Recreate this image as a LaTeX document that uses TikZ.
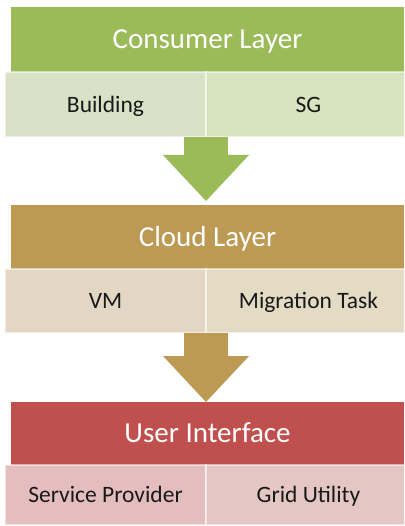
\documentclass[tikz,border=0pt]{standalone}
\usepackage{fontspec}
\setmainfont{Carlito}
\usetikzlibrary{positioning,arrows.meta}

\definecolor{conshead}{HTML}{9BBB59}
\definecolor{consleft}{HTML}{D9E2C6}
\definecolor{consright}{HTML}{D8E4BF}
\definecolor{cloudhead}{HTML}{BD9A53}
\definecolor{cloudleft}{HTML}{E3D6C3}
\definecolor{cloudright}{HTML}{E3DBC4}
\definecolor{uihead}{HTML}{C0504D}
\definecolor{uileft}{HTML}{E4BEBE}
\definecolor{uiright}{HTML}{E4C7C3}

\tikzset{
  layerhead/.style={anchor=north west, minimum width=393pt, inner sep=0pt,
    outer sep=0pt, text=white, text height=18.7pt, text depth=0pt,
    font=\fontsize{29}{34}\selectfont},
  layerpart/.style={anchor=north west, minimum width=201pt, inner sep=0pt,
    outer sep=0pt, draw=white, draw opacity=0.55, line width=2pt,
    text=black!90, text height=15.1pt, text depth=0pt,
    font=\fontsize{23.5}{28}\selectfont},
  layerarrow/.style={line width=44pt,
    -{Triangle[width=86pt,length=46pt,line width=0pt]}}
}

\begin{document}
\begin{tikzpicture}[x=1pt,y=1pt]
        \clip (0,0) rectangle (404,-526);
        % consumer layer
        \node[layerhead, fill=conshead, minimum height=65pt] (cons) at (11,-7) {Consumer Layer};
        \node[layerpart, fill=consleft, minimum height=65pt] (bldg) at (5,-72) {Building};
        \node[layerpart, fill=consright, minimum height=65pt, minimum width=205pt,
          right=0pt of bldg] (sg) {SG};
        % cloud layer
        \node[layerhead, fill=cloudhead, minimum height=64pt] (cloud) at (11,-205) {Cloud Layer};
        \node[layerpart, fill=cloudleft, minimum height=64pt] (vm) at (5,-269) {VM};
        \node[layerpart, fill=cloudright, minimum height=64pt, minimum width=205pt,
          right=0pt of vm] (migr) {Migration Task};
        % user interface
        \node[layerhead, fill=uihead, minimum height=63pt] (ui) at (11,-402) {User Interface};
        \node[layerpart, fill=uileft, minimum height=60pt] (prov) at (5,-465) {Service Provider};
        \node[layerpart, fill=uiright, minimum height=60pt, minimum width=205pt,
          right=0pt of prov] (grid) {Grid Utility};

        \draw[layerarrow, conshead, shorten >=4pt] (bldg.south east) -- (bldg.south east |- cloud.north);
        \draw[layerarrow, cloudhead] (vm.south east) -- (vm.south east |- ui.north);
      \end{tikzpicture}
\end{document}
